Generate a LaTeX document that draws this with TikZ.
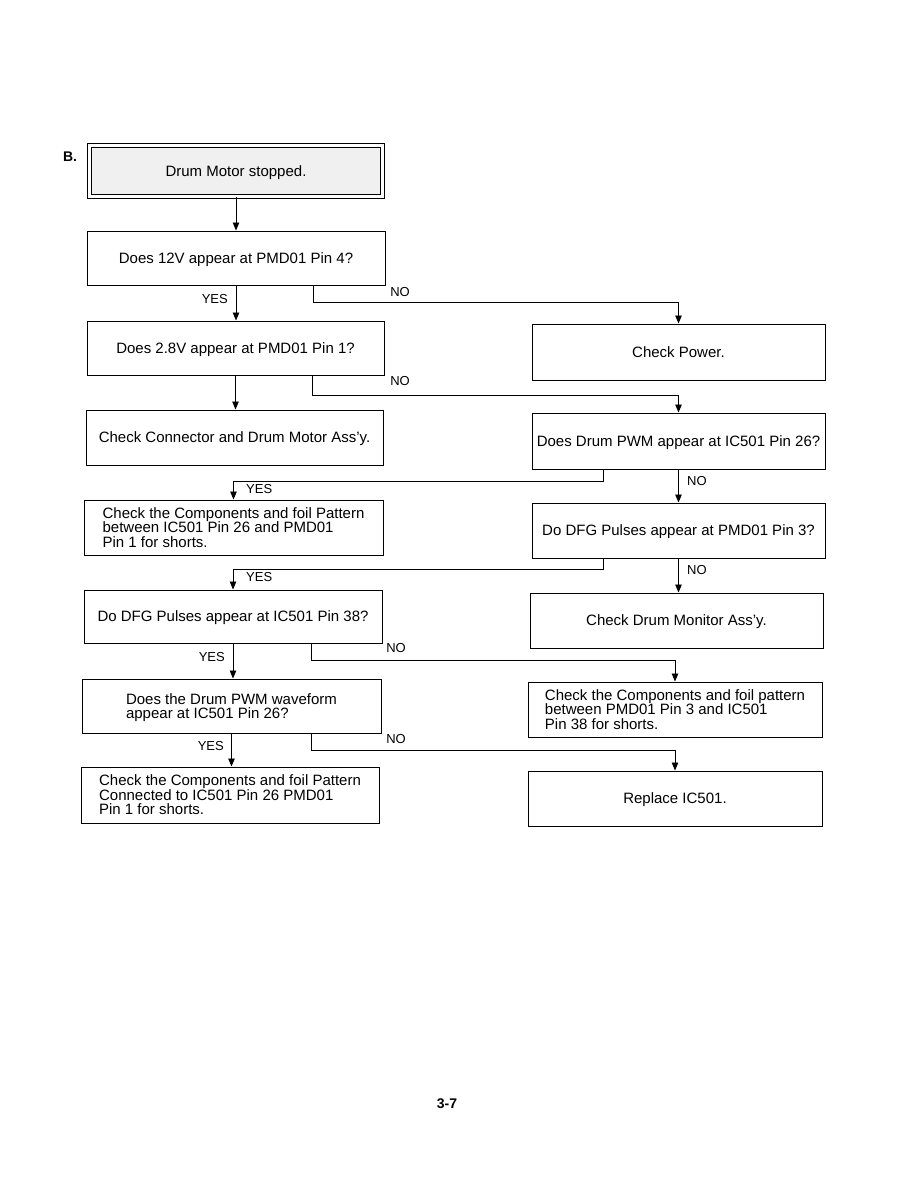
\documentclass[tikz,border=0pt]{standalone}
\usepackage{fontspec}
\setmainfont{Liberation Sans}
\usepackage{tikz}
\usetikzlibrary{arrows.meta, positioning, calc}

\begin{document}
\begin{tikzpicture}[
    x=1pt, y=-1pt,
    >={Triangle[length=8pt, width=6.5pt]},
    box/.style={draw, line width=1pt, minimum width=298pt, minimum height=54pt,
                inner sep=0pt, text depth=0pt,
                font=\fontsize{15}{14.5}\selectfont, align=left},
    rbox/.style={box, minimum width=293pt, minimum height=55pt},
    startbox/.style={box, double, double distance=2.5pt, fill=black!6,
                     minimum width=293pt, minimum height=51pt},
    conn/.style={->, line width=0.9pt},
    lbl/.style={font=\fontsize{13}{13}\selectfont, inner sep=1pt},
]
\useasboundingbox (0,0) rectangle (918,1188);

% ============================================================
% LEFT COLUMN
% ============================================================
\node[font=\fontsize{14}{14}\selectfont\bfseries] (tag) at (70,157) {B.};
\node[startbox] (stop) at (236,171) {Drum Motor stopped.};

\node[box] (v12) at (236,258) {Does 12V appear at PMD01 Pin 4?};
\node[box, minimum width=297pt] (v28) at (235.5,348) {Does 2.8V appear at PMD01 Pin 1?};
\node[box, minimum width=297pt, minimum height=55pt] (conn1) at (234.5,437.5)
    {Check Connector and Drum Motor Ass’y.};
\node[box, minimum width=299pt, minimum height=55pt] (foilA) at (233.5,527.5)
    {Check the Components and foil Pattern\\between IC501 Pin 26 and PMD01\\Pin 1 for shorts.};
\node[box, minimum height=53pt] (dfgic) at (233,616.5) {Do DFG Pulses appear at IC501 Pin 38?};
\node[box, minimum width=299pt] (pwmwave) at (231.5,706)
    {Does the Drum PWM waveform\\appear at IC501 Pin 26?};
\node[box, minimum height=56pt] (foilB) at (230,795)
    {Check the Components and foil Pattern\\Connected to IC501 Pin 26 PMD01\\Pin 1 for shorts.};

% ============================================================
% RIGHT COLUMN
% ============================================================
\node[rbox, minimum height=56pt] (power) at (678.5,352) {Check Power.};
\node[rbox, minimum height=56pt] (pwm) at (678.5,441) {Does Drum PWM appear at IC501 Pin 26?};
\node[rbox] (dfgpmd) at (678.5,530.5) {Do DFG Pulses appear at PMD01 Pin 3?};
\node[rbox] (monitor) at (676.5,620.5) {Check Drum Monitor Ass’y.};
\node[rbox, minimum width=294pt] (foilC) at (675,709.5)
    {Check the Components and foil pattern\\between PMD01 Pin 3 and IC501\\Pin 38 for shorts.};
\node[rbox, minimum width=294pt] (replace) at (675,798.5) {Replace IC501.};

% --- Connectors ---
\draw[conn] (stop.south) -- (stop.south |- v12.north);

% 12V check
\draw[conn] (v12.south) -- (v12.south |- v28.north);
\node[lbl, anchor=east] (yes1) at (229,299) {YES};
\draw[conn] ([xshift=77pt]v12.south) -- ++(0,17) -| (power.north);
\node[lbl] (no1) at (400,292) {NO};

% 2.8V check
\draw[conn] (v28.south) -- (v28.south |- conn1.north);
\draw[conn] ([xshift=77pt]v28.south) -- ++(0,20) -| (pwm.north);
\node[lbl] (no2) at (400,381) {NO};

% Drum PWM check
\draw[conn] ([xshift=-75pt]pwm.south) -- ++(0,12) -| (foilA.north);
\node[lbl, anchor=west] (yes2) at (245,489) {YES};
\draw[conn] (pwm.south) -- (pwm.south |- dfgpmd.north);
\node[lbl, anchor=west] (no3) at (686,481) {NO};

% DFG at PMD01
\draw[conn] ([xshift=-75pt]dfgpmd.south) -- ++(0,11) -| (dfgic.north);
\node[lbl, anchor=west] (yes3) at (245,577) {YES};
\draw[conn] (dfgpmd.south) -- (dfgpmd.south |- monitor.north);
\node[lbl, anchor=west] (no4) at (686,570) {NO};

% DFG at IC501
\draw[conn] (dfgic.south) -- (dfgic.south |- pwmwave.north);
\node[lbl, anchor=east] (yes4) at (226,657) {YES};
\draw[conn] ([xshift=78pt]dfgic.south) -- ++(0,17) -| (foilC.north);
\node[lbl] (no5) at (396,648) {NO};

% PWM waveform
\draw[conn] (pwmwave.south) -- (pwmwave.south |- foilB.north);
\node[lbl, anchor=east] (yes5) at (225,746) {YES};
\draw[conn] ([xshift=79.5pt]pwmwave.south) -- ++(0,17) -| (replace.north);
\node[lbl] (no6) at (396,739) {NO};

% --- Page number ---
\node[font=\fontsize{14}{14}\selectfont\bfseries] (page) at (447,1104) {3-7};

\end{tikzpicture}
\end{document}
